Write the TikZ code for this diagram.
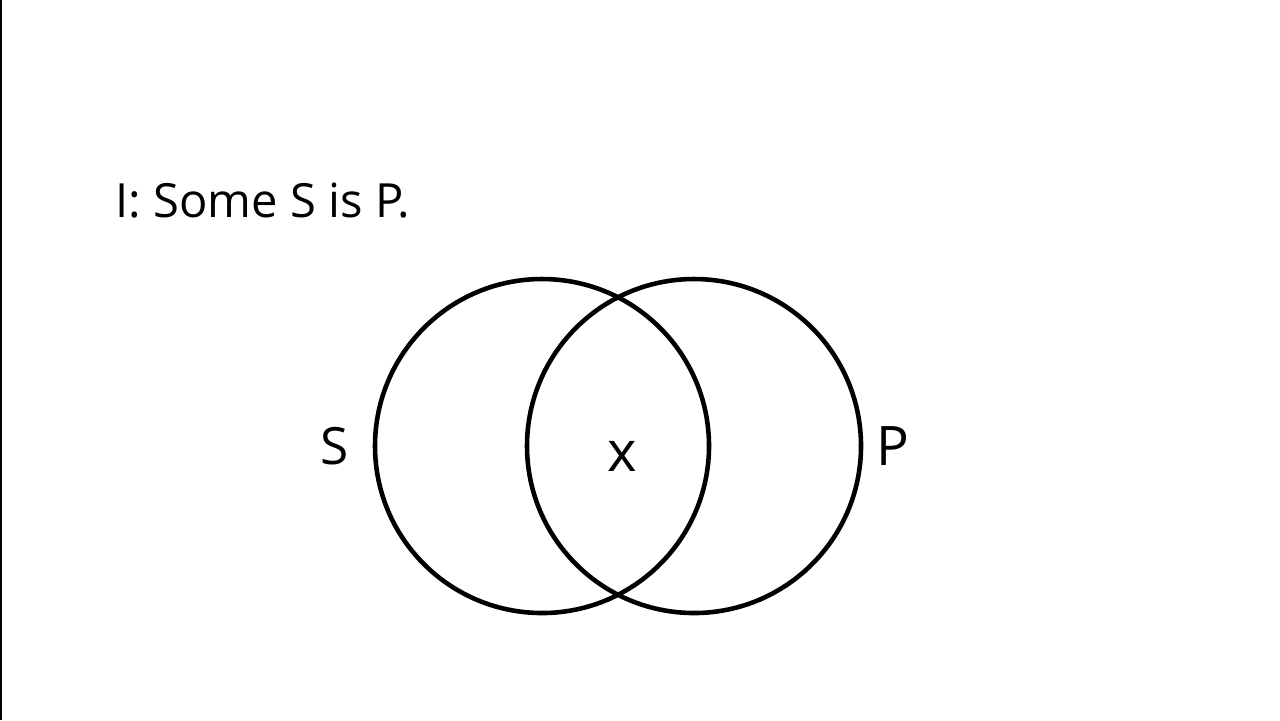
\documentclass[tikz,border=0pt]{standalone}
\usepackage{fontspec}
\setmainfont{Open Sans}
\usepackage{tikz}
\usetikzlibrary{calc}

\begin{document}
\begin{tikzpicture}[x=0.01cm,y=-0.01cm]
		\useasboundingbox (0,0) rectangle (1280,720);
		\fill[white] (0,0) rectangle (1280,720);
		\draw[line width=0.6pt] (0.5,0) -- (0.5,720);
		
		\coordinate (origoS) at (542,446);
		\coordinate (origoP) at (694,446);
		
		\node[anchor=base west,inner sep=0,font=\fontsize{13.4}{16}\selectfont] (title) at (115,217) {I: Some S is P.};
		
		\draw[line width=1.3pt] (origoS) circle (167);
		\draw[line width=1.3pt] (origoP) circle (167);
		
		\node[inner sep=0,font=\fontsize{14.6}{17}\selectfont] (S) at (335,446) {S};
		\node[inner sep=0,font=\fontsize{15.5}{18}\selectfont] (P) at (893,446) {P};
		\node[inner sep=0,font=\fontsize{16}{18}\selectfont] (X) at (622,456) {x};
		\end{tikzpicture}
\end{document}
